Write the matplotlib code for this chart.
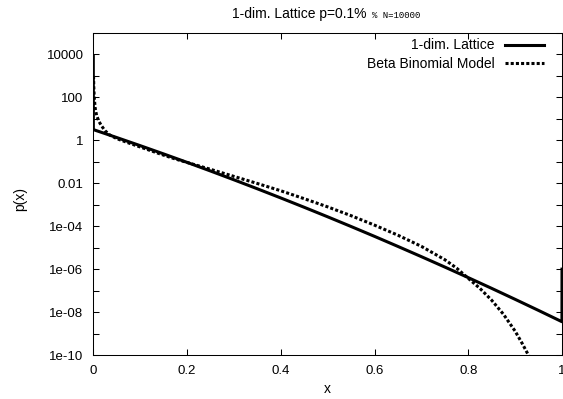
import matplotlib
matplotlib.use('Agg')
import matplotlib.pyplot as plt
from matplotlib.ticker import NullLocator

plt.rcParams['font.family'] = ['Liberation Sans', 'DejaVu Sans']

# ---- data ----
lattice_x = [0.0, 0.0001, 0.05, 0.1, 0.15, 0.2, 0.25, 0.3, 0.35, 0.4, 0.45, 0.5,
             0.55, 0.6, 0.65, 0.7, 0.75, 0.8, 0.85, 0.9, 0.95, 0.9999, 1.0]
lattice_p = [8000, 3.16, 1.35, 0.566, 0.233, 0.0942, 0.0373, 0.0145, 5.53e-3,
             2.07e-3, 7.60e-4, 2.74e-4, 9.68e-5, 3.36e-5, 1.14e-5, 3.81e-6,
             1.25e-6, 4.02e-7, 1.27e-7, 3.92e-8, 1.19e-8, 3.55e-9, 1.0e-6]

beta_x = [0.0005, 0.001, 0.002, 0.004, 0.007, 0.012, 0.018, 0.025, 0.035, 0.05,
          0.075, 0.1, 0.125, 0.15, 0.175, 0.2, 0.25, 0.3, 0.35, 0.4, 0.45, 0.5,
          0.55, 0.6, 0.65, 0.7, 0.75, 0.775, 0.8, 0.825, 0.85, 0.875, 0.9,
          0.915, 0.93, 0.94]
beta_p = [1000, 316, 100, 31.6, 14.5, 7.6, 4.57, 2.82, 1.78, 1.20,
          0.759, 0.490, 0.316, 0.204, 0.135, 0.0933, 0.0447, 0.0209, 9.77e-3,
          4.47e-3, 1.91e-3, 7.94e-4, 3.09e-4, 1.12e-4, 3.80e-5, 1.15e-5,
          2.75e-6, 1.12e-6, 3.72e-7, 1.26e-7, 3.55e-8, 7.94e-9, 1.29e-9,
          3.47e-10, 8.5e-11, 3.5e-11]

series_labels = ['1-dim. Lattice', 'Beta Binomial Model']

x_ticks = [0, 0.2, 0.4, 0.6, 0.8, 1.0]
x_tick_labels = ['0', '0.2', '0.4', '0.6', '0.8', '1']
y_ticks = [1e-10, 1e-9, 1e-8, 1e-7, 1e-6, 1e-5, 1e-4, 1e-3, 1e-2, 1e-1, 1, 10,
           100, 1e3, 1e4, 1e5]
y_tick_labels = ['1e-10', '', '1e-08', '', '1e-06', '', '1e-04', '', '0.01', '',
                 '1', '', '100', '', '10000', '']

title_main = '1-dim. Lattice p=0.1%'
title_small = '% N=10000'

# ---- figure ----
W, H = 563, 399
fig = plt.figure(figsize=(W / 100, H / 100), dpi=100)
left, right, top, bottom = 93.3, 562.0, 33.0, 355.0
ax = fig.add_axes([left / W, 1 - bottom / H, (right - left) / W, (bottom - top) / H])
ax.set_yscale('log')

ax.plot(lattice_x, lattice_p, color='black', lw=2.2, label=series_labels[0])
ax.plot(beta_x, beta_p, color='black', lw=2.2, linestyle=(0, (1.0, 0.7)),
        dash_capstyle='butt', label=series_labels[1])

ax.set_xlim(0, 1)
ax.set_ylim(1e-10, 1e5)
ax.set_xticks(x_ticks)
ax.set_xticklabels(x_tick_labels)
ax.set_yticks(y_ticks)
ax.set_yticklabels(y_tick_labels)
ax.yaxis.set_minor_locator(NullLocator())
ax.xaxis.set_minor_locator(NullLocator())
ax.tick_params(direction='in', top=True, right=True, length=4.3, width=0.75,
               pad=7, labelsize=9.5)
for s in ax.spines.values():
    s.set_linewidth(0.75)

ax.set_xlabel('x', fontsize=10)
ax.xaxis.set_label_coords(0.5, -0.084)
ax.set_ylabel('p(x)', fontsize=10)
ax.yaxis.set_label_coords(-0.141, 0.486)

ax.legend(loc='upper right', bbox_to_anchor=(0.9616, 0.983), frameon=False,
          markerfirst=False, handlelength=2.8, handletextpad=0.75, borderpad=0,
          borderaxespad=0, labelspacing=0.3, fontsize=10)

fig.text(231.7 / W, 1 - 18.3 / H, title_main, fontsize=10, ha='left', va='baseline')
fig.text(371.7 / W, 1 - 18.3 / H, title_small, fontsize=6.5, ha='left',
         va='baseline', family=['Liberation Mono', 'DejaVu Sans Mono'])

fig.savefig('out.png', dpi=100)
